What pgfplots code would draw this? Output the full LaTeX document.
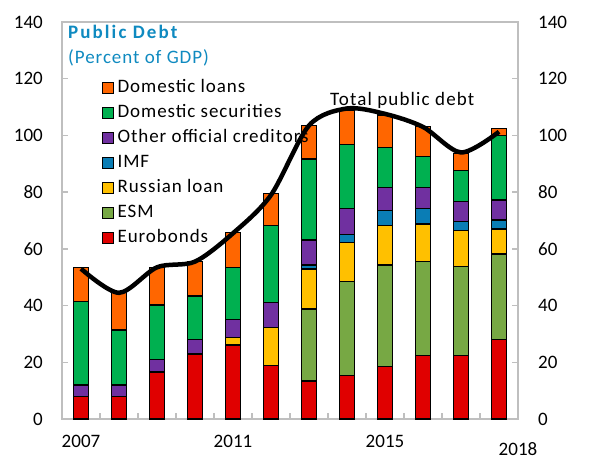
\documentclass[border=0pt]{standalone}
\usepackage{pgfplots}
\pgfplotsset{compat=1.18}
\usepackage{fontspec}
\setmainfont{Carlito}
\newfontfamily\wide{Carlito}[LetterSpace=5]
\newfontfamily\widet{Carlito}[LetterSpace=6]
\newfontfamily\wideb{Carlito}[LetterSpace=11]
\definecolor{cLoans}{HTML}{FF6600}
\definecolor{cSec}{HTML}{00B050}
\definecolor{cOther}{HTML}{7030A0}
\definecolor{cIMF}{HTML}{0A7DB5}
\definecolor{cRus}{HTML}{FFC000}
\definecolor{cESM}{HTML}{77A844}
\definecolor{cEuro}{HTML}{E00000}
\definecolor{cTitle}{RGB}{15,138,192}
\definecolor{cAxis}{HTML}{BFBFBF}
\newcommand{\ff}{\fontsize{19bp}{23bp}\selectfont}
\begin{document}
\ff
\begin{tikzpicture}
\path[use as bounding box] (-62bp,-45bp) rectangle (530bp,419bp);
\begin{axis}[
  at={(0,0)}, anchor=south west, scale only axis,
  width=456bp, height=397bp,
  xmin=-0.5, xmax=11.5, ymin=0, ymax=140,
  ybar stacked, bar width=15bp,
  axis line style={draw=cAxis, line width=1.3bp},
  every tick/.style={draw=cAxis, line width=1.3bp},
  major tick length=6bp, tick align=inside,
  xtick={0.5,1.5,...,10.5}, xticklabels={},
  xtick pos=lower,
  extra x ticks={0,4,8,11.5},
  extra x tick labels={2007,2011,2015,\raisebox{-8bp}{2018}},
  extra x tick style={major tick length=0pt},
  xticklabel style={anchor=base, inner sep=0pt, yshift=-28bp, font=\ff},
  ytick={0,20,...,140}, ytick pos=both,
  yticklabel style={anchor=east, inner xsep=0pt, xshift=-19bp, font=\ff},
  /pgf/number format/assume math mode=true,
  reverse legend,
  legend cell align=left,
  legend style={at={(rel axis cs:0.087,0.855)}, anchor=north west,
    draw=none, fill=none, font=\ff\wide, inner sep=0pt,
    nodes={inner ysep=0pt, inner xsep=3.5bp, text height=13bp, text depth=4bp},
    row sep=8bp},
  legend image code/.code={\draw[#1, line width=1.2bp] (0bp,-5bp) rectangle (11bp,6bp);},
  every axis plot/.append style={draw=black, line width=1.2bp},
]
% Eurobonds
\addplot[fill=cEuro] coordinates {(0,7.9) (1,7.9) (2,16.6) (3,22.9) (4,26.1) (5,19.0) (6,13.4) (7,15.3) (8,18.4) (9,22.3) (10,22.3) (11,28.1)};
% ESM
\addplot[fill=cESM] coordinates {(0,0) (1,0) (2,0) (3,0) (4,0) (5,0) (6,25.4) (7,33.1) (8,35.9) (9,33.2) (10,31.4) (11,30.1)};
% Russian loan
\addplot[fill=cRus] coordinates {(0,0) (1,0) (2,0) (3,0) (4,2.7) (5,13.3) (6,14.1) (7,13.9) (8,13.9) (9,13.3) (10,12.7) (11,8.8)};
% IMF
\addplot[fill=cIMF] coordinates {(0,0) (1,0) (2,0) (3,0) (4,0) (5,0) (6,1.4) (7,2.8) (8,5.3) (9,5.3) (10,3.2) (11,3.2)};
% Other official creditors
\addplot[fill=cOther] coordinates {(0,4.1) (1,4.1) (2,4.5) (3,5.2) (4,6.4) (5,8.7) (6,8.8) (7,9.0) (8,8.1) (9,7.5) (10,7.1) (11,7.0)};
% Domestic securities
\addplot[fill=cSec] coordinates {(0,29.4) (1,19.4) (2,19.1) (3,15.3) (4,18.3) (5,27.1) (6,28.6) (7,22.8) (8,14.1) (9,10.9) (10,10.8) (11,22.7)};
% Domestic loans
\addplot[fill=cLoans] coordinates {(0,12.1) (1,13.2) (2,13.3) (3,12.1) (4,12.2) (5,11.5) (6,11.7) (7,11.8) (8,11.5) (9,10.6) (10,6.2) (11,2.6)};
\legend{Eurobonds,ESM,Russian loan,IMF,Other official creditors,Domestic securities,Domestic loans}
\end{axis}
\begin{axis}[
  at={(0,0)}, anchor=south west, scale only axis,
  width=456bp, height=397bp,
  xmin=-0.5, xmax=11.5, ymin=0, ymax=140,
  axis x line=none, axis y line*=right,
  axis line style={draw=cAxis, line width=1.3bp},
  ytick={0,20,...,140}, major tick length=0pt,
  yticklabel style={anchor=west, inner xsep=0pt, xshift=20bp, font=\ff},
  /pgf/number format/assume math mode=true,
]
\addplot[black, line width=4.5bp, smooth, tension=0.5, no marks] coordinates {(0,53) (1,44.5) (2,53.5) (3,55.5) (4,65.5) (5,79) (6,103.5) (7,109.5) (8,107.6) (9,103) (10,94) (11,101.3)};
\end{axis}
\node[anchor=base west, text=cTitle, font=\ff\wideb\bfseries, inner sep=0pt] at (6bp,380bp) {Public Debt};
\node[anchor=base west, text=cTitle, font=\ff\wide, inner sep=0pt] at (6bp,355bp) {(Percent of GDP)};
\node[anchor=base west, font=\ff\widet, inner sep=0pt] at (268bp,313bp) {Total public debt};
\end{tikzpicture}
\end{document}
